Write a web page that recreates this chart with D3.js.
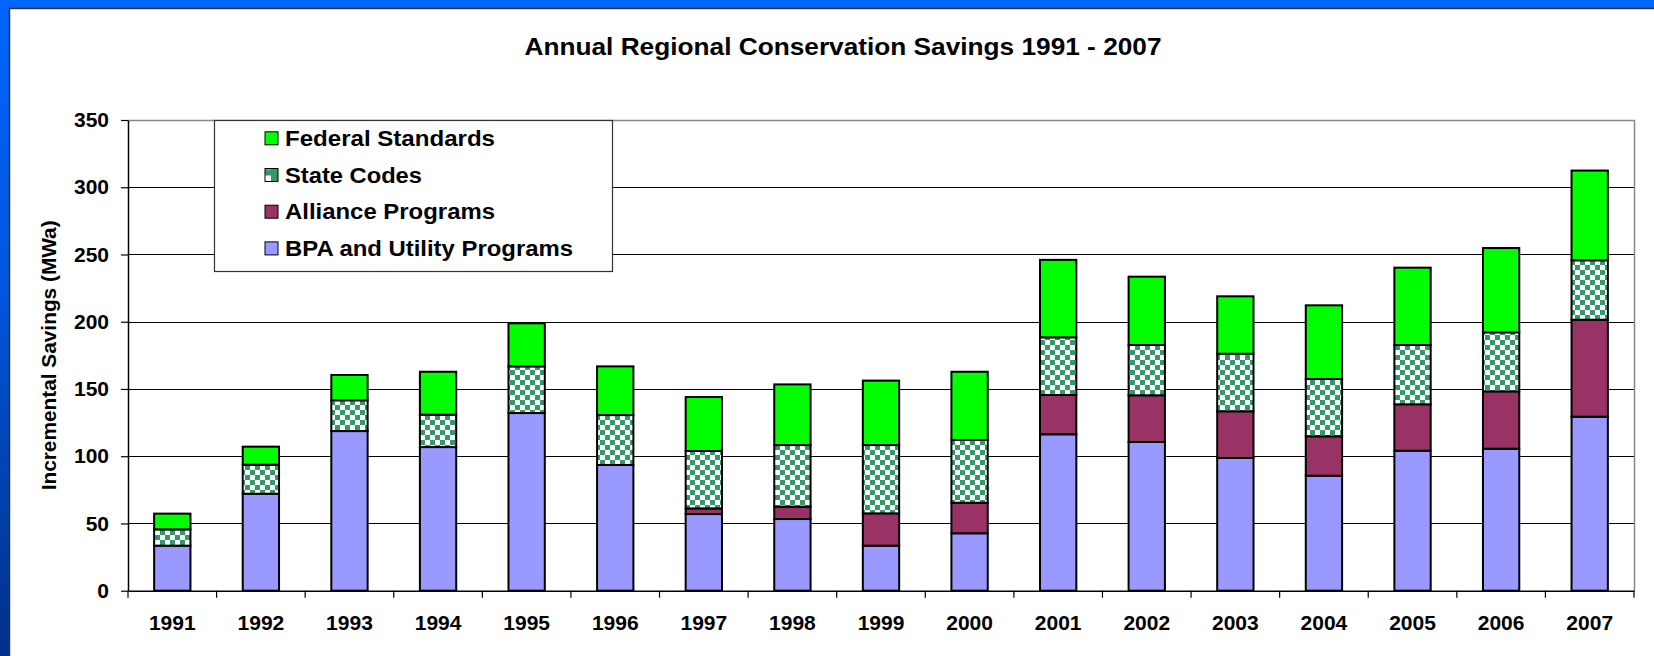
<!DOCTYPE html>
<html><head><meta charset="utf-8">
<script src="https://cdn.jsdelivr.net/npm/d3@7"></script>
<style>
body{margin:0;background:#fff}
svg{display:block}
text{font-family:"Liberation Sans",Arial,sans-serif;font-weight:bold;fill:#000}
</style>
</head><body>
<svg id="chart" width="1654" height="656"></svg>
<script>
const years = ["1991","1992","1993","1994","1995","1996","1997","1998","1999","2000","2001","2002","2003","2004","2005","2006","2007"];
const bpaUtility = [33.5,72.1,118.7,106.8,132.1,93.5,57.0,53.3,33.5,42.7,116.3,110.6,98.7,85.5,104.1,105.6,129.4];
const alliancePrograms = [0,0,0,0,0,0,4.2,9.2,24.0,22.7,29.2,34.7,34.7,29.3,34.5,42.6,72.1];
const stateCodes = [12.1,21.6,22.9,24.1,34.7,37.1,42.7,45.8,50.8,46.7,42.9,37.4,42.8,42.6,44.1,43.9,44.2];
const federalStandards = [11.7,13.4,18.8,31.9,32.0,36.2,40.1,45.1,47.9,50.7,57.6,50.8,42.7,54.8,57.5,62.7,66.7];
const seriesKeys = ["bpa","alliance","state","federal"];
const seriesNames = {bpa:"BPA and Utility Programs",alliance:"Alliance Programs",state:"State Codes",federal:"Federal Standards"};
const legendOrder = ["federal","state","alliance","bpa"];
const yTickValues = [0,50,100,150,200,250,300,350];
const chartTitle = "Annual Regional Conservation Savings 1991 - 2007";
const yAxisTitle = "Incremental Savings (MWa)";

(function(){
const W = 1654, H = 656;
const svg = d3.select("#chart");
const defs = svg.append("defs");

const grad = defs.append("linearGradient").attr("id","leftGrad").attr("x1",0).attr("y1",0).attr("x2",0).attr("y2",1);
grad.append("stop").attr("offset","0%").attr("stop-color","#0066ff");
grad.append("stop").attr("offset","45%").attr("stop-color","#0055dd");
grad.append("stop").attr("offset","100%").attr("stop-color","#00308a");

const pat = defs.append("pattern").attr("id","checker").attr("patternUnits","userSpaceOnUse")
  .attr("width",10).attr("height",10);
pat.append("rect").attr("width",10).attr("height",10).attr("fill","#ffffff");
pat.append("rect").attr("x",0).attr("y",0).attr("width",5).attr("height",5).attr("fill","#339966");
pat.append("rect").attr("x",5).attr("y",5).attr("width",5).attr("height",5).attr("fill","#339966");

const lpat = defs.append("pattern").attr("id","legChecker").attr("patternUnits","userSpaceOnUse")
  .attr("x",265).attr("y",138.3+36.7-6.5).attr("width",13).attr("height",13);
lpat.append("rect").attr("width",13).attr("height",13).attr("fill","#339966");
lpat.append("rect").attr("x",0).attr("y",7).attr("width",6).attr("height",6).attr("fill","#fff");
lpat.append("rect").attr("x",0).attr("y",0).attr("width",6).attr("height",2).attr("fill","#5fb38a");

const colors = {bpa:"#9999ff",alliance:"#993366",state:"url(#checker)",federal:"#00ff00"};

svg.append("rect").attr("x",0).attr("y",0).attr("width",W).attr("height",9).attr("fill","#0066ff");
svg.append("rect").attr("x",0).attr("y",0).attr("width",9.5).attr("height",H).attr("fill","url(#leftGrad)");
svg.append("path").attr("d",`M9.5,${H} L9.5,8.5 L${W},8.5`).attr("fill","none").attr("stroke","#333").attr("stroke-width",1.5);

const pL = 128, pR = 1634, pT = 120, pB = 590.7;
const x = d3.scaleBand().domain(years).range([pL,pR]).paddingInner(0.59).paddingOuter(0.295);
const y = d3.scaleLinear().domain([0,350]).range([pB,pT]);

svg.append("text").attr("x",843).attr("y",55).attr("text-anchor","middle")
  .attr("font-size",24).attr("textLength",637).attr("lengthAdjust","spacingAndGlyphs").text(chartTitle);

svg.append("g").selectAll("line").data(yTickValues.filter(v=>v>0 && v<350)).join("line")
  .attr("x1",pL).attr("x2",pR).attr("y1",d=>Math.round(y(d))+0.5).attr("y2",d=>Math.round(y(d))+0.5)
  .attr("stroke","#000").attr("stroke-width",1);
svg.append("path").attr("d",`M${pL},${pT+0.5} L${pR+0.5},${pT+0.5} L${pR+0.5},${pB}`)
  .attr("fill","none").attr("stroke","#888").attr("stroke-width",1.5);

const data = years.map((yr,i)=>({year:yr,bpa:bpaUtility[i],alliance:alliancePrograms[i],state:stateCodes[i],federal:federalStandards[i]}));
const stack = d3.stack().keys(seriesKeys)(data);
const barsG = svg.append("g");
stack.forEach(layer=>{
  barsG.append("g").selectAll("rect").data(layer.filter(d=>d[1]-d[0]>0)).join("rect")
    .attr("x",d=>x(d.data.year)).attr("width",x.bandwidth())
    .attr("y",d=>y(d[1])).attr("height",d=>y(d[0])-y(d[1]))
    .attr("fill",colors[layer.key]).attr("stroke","#000").attr("stroke-width",2);
});

const yAxis = d3.axisLeft(y).tickValues(yTickValues).tickSize(7).tickSizeOuter(0).tickPadding(12);
const gy = svg.append("g").attr("transform",`translate(${pL},0)`).call(yAxis);
gy.select(".domain").attr("stroke","#000").attr("stroke-width",1.5);
gy.selectAll(".tick line").attr("stroke","#000").attr("stroke-width",1.2);
gy.selectAll(".tick text").attr("font-size",21).attr("font-family","'Liberation Sans',Arial,sans-serif").attr("font-weight","bold").attr("fill","#000");

const xAxis = d3.axisBottom(x).tickSize(0).tickSizeOuter(0).tickPadding(24);
const gx = svg.append("g").attr("transform",`translate(0,${pB})`).call(xAxis);
gx.select(".domain").attr("stroke","#000").attr("stroke-width",1.5);
gx.selectAll(".tick text").attr("font-size",21).attr("font-family","'Liberation Sans',Arial,sans-serif").attr("font-weight","bold").attr("fill","#000");
const step = x.step();
const bounds = years.map(yr=>x(yr)-(step-x.bandwidth())/2).concat([pR]);
svg.append("g").selectAll("line").data(bounds).join("line")
  .attr("x1",d=>d).attr("x2",d=>d).attr("y1",pB).attr("y2",pB+7)
  .attr("stroke","#000").attr("stroke-width",1.2);

svg.append("text").attr("transform",`translate(56,${(pT+pB)/2}) rotate(-90)`)
  .attr("text-anchor","middle").attr("font-size",20.5).attr("textLength",270).attr("lengthAdjust","spacingAndGlyphs")
  .text(yAxisTitle);

const lg = svg.append("g");
lg.append("rect").attr("x",214.5).attr("y",120.5).attr("width",398).attr("height",151)
  .attr("fill","#fff").attr("stroke","#333").attr("stroke-width",1.2);
const legendTextW = {federal:210,state:137,alliance:210,bpa:288};
legendOrder.forEach((k,i)=>{
  const cy = 138.3 + i*36.7;
  lg.append("rect").attr("x",265).attr("y",cy-6.5).attr("width",13).attr("height",13)
    .attr("fill",k==="state"?"url(#legChecker)":colors[k]).attr("stroke","#000").attr("stroke-width",1);
  lg.append("text").attr("x",285).attr("y",cy+7.5).attr("font-size",22)
    .attr("textLength",legendTextW[k]).attr("lengthAdjust","spacingAndGlyphs").text(seriesNames[k]);
});
})();
</script>
</body></html>
